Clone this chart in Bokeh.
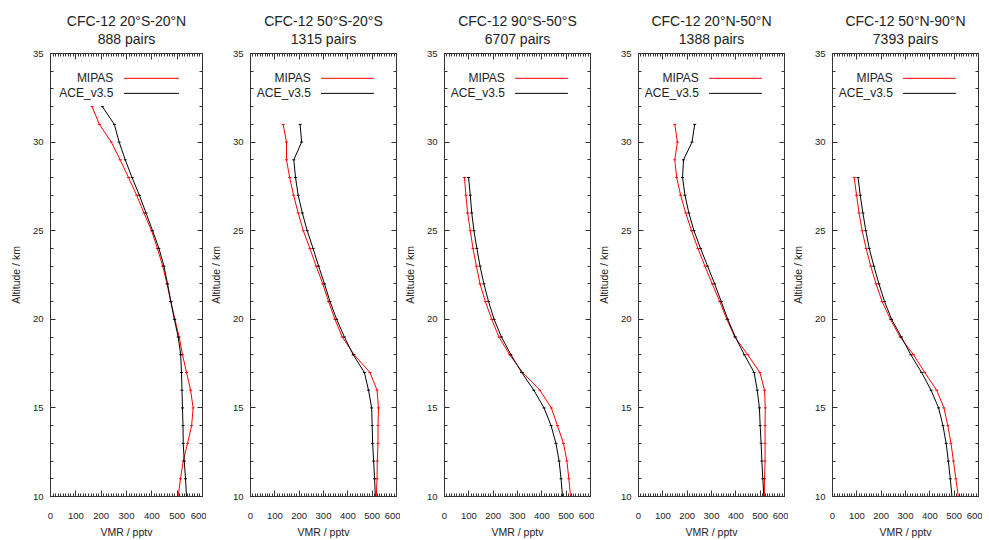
from bokeh.plotting import figure
from bokeh.layouts import row
from bokeh.models import Range1d, LinearAxis, SingleIntervalTicker, Title, Label
from bokeh.embed import file_html
from bokeh.resources import INLINE

# ---------------- data ----------------
REGIONS = ["20°S-20°N", "50°S-20°S", "90°S-50°S", "20°N-50°N", "50°N-90°N"]
PAIRS = [888, 1315, 6707, 1388, 7393]

ALT_1 = [10, 11, 12, 13, 14, 15, 16, 17, 18, 19, 20, 21, 22, 23, 24, 25, 26, 27, 28, 29, 30, 31, 32]
MIPAS_1 = [504, 513, 524, 541, 557, 563, 553, 537, 521, 508, 491, 475, 460, 443, 422, 399, 369, 340, 308, 275, 240, 193, 164]
ACE_1 = [537, 533, 528, 524, 523, 521, 519, 517, 514, 504, 489, 475, 462, 448, 428, 403, 377, 351, 322, 295, 271, 252, 205]

ALT_2 = [10, 11, 12, 13, 14, 15, 16, 17, 18, 19, 20, 21, 22, 23, 24, 25, 26, 27, 28, 29, 30, 31]
MIPAS_2 = [517, 520, 521, 524, 524, 526, 520, 491, 426, 377, 347, 321, 297, 270, 244, 217, 196, 177, 161, 148, 148, 134]
ACE_2 = [513, 510, 506, 502, 500, 498, 485, 468, 422, 386, 354, 327, 304, 280, 257, 233, 213, 196, 185, 178, 210, 204]

ALT_3 = [10, 11, 12, 13, 14, 15, 16, 17, 18, 19, 20, 21, 22, 23, 24, 25, 26, 27, 28]
MIPAS_3 = [518, 511, 503, 489, 464, 439, 392, 321, 268, 224, 194, 168, 146, 131, 117, 106, 95, 88, 82]
ACE_3 = [485, 479, 471, 458, 438, 409, 367, 317, 273, 234, 204, 181, 162, 146, 133, 121, 112, 106, 99]

ALT_4 = [10, 11, 12, 13, 14, 15, 16, 17, 18, 19, 20, 21, 22, 23, 24, 25, 26, 27, 28, 29, 30, 31]
MIPAS_4 = [517, 518, 520, 520, 520, 521, 518, 499, 449, 396, 363, 334, 303, 273, 244, 218, 194, 173, 157, 149, 160, 149]
ACE_4 = [515, 511, 507, 504, 500, 497, 488, 475, 435, 398, 367, 340, 313, 284, 255, 228, 207, 191, 181, 185, 220, 231]

ALT_5 = [10, 11, 12, 13, 14, 15, 16, 17, 18, 19, 20, 21, 22, 23, 24, 25, 26, 27, 28]
MIPAS_5 = [517, 507, 497, 487, 474, 458, 428, 379, 333, 278, 238, 204, 179, 157, 138, 122, 109, 99, 89]
ACE_5 = [491, 484, 476, 467, 454, 436, 405, 366, 322, 283, 243, 214, 191, 170, 151, 137, 125, 114, 105]

ALTS = [ALT_1, ALT_2, ALT_3, ALT_4, ALT_5]
MIPAS = [MIPAS_1, MIPAS_2, MIPAS_3, MIPAS_4, MIPAS_5]
ACE = [ACE_1, ACE_2, ACE_3, ACE_4, ACE_5]
SERIES = ["MIPAS", "ACE_v3.5"]

# ---------------- style ----------------
FONT = "Liberation Sans"
TXT = "#222222"
AXC = "#333333"
COLORS = ["#ff0000", "#000000"]
LEG_TEXT_X = 248
LEG_LINE_X = (290, 507)
LEG_Y = (33.6, 32.75)


def style_axis(ax, major_in, minor_in, labels):
    ax.major_tick_in = major_in
    ax.major_tick_out = 0
    ax.minor_tick_in = minor_in
    ax.minor_tick_out = 0
    ax.axis_line_color = AXC
    ax.major_tick_line_color = AXC
    ax.minor_tick_line_color = AXC
    ax.major_label_text_font = FONT
    ax.major_label_text_font_size = "9.5px"
    ax.major_label_text_color = TXT
    ax.axis_label_text_font = FONT
    ax.axis_label_text_font_size = "10.5px"
    ax.axis_label_text_font_style = "normal"
    ax.axis_label_text_color = TXT
    if not labels:
        ax.major_label_text_color = None
        ax.major_label_text_font_size = "0px"
        ax.major_label_standoff = 0
        ax.axis_label = None


def make_panel(i):
    left = 50 if i == 0 else 38
    right_b = 4
    p = figure(width=left + 152 + right_b, height=540, x_range=Range1d(0, 600), y_range=Range1d(10, 35),
               output_backend="svg", toolbar_location=None,
               min_border_left=left, min_border_right=right_b, min_border_top=53, min_border_bottom=44)
    p.xgrid.visible = False
    p.ygrid.visible = False
    p.outline_line_color = AXC
    p.background_fill_color = "white"
    p.border_fill_color = "white"

    p.xaxis.ticker = SingleIntervalTicker(interval=100, num_minor_ticks=10)
    p.yaxis.ticker = SingleIntervalTicker(interval=5, num_minor_ticks=5)
    p.xaxis.axis_label = "VMR / pptv"
    p.yaxis.axis_label = "Altitude / km"
    style_axis(p.xaxis[0], 6, 3, True)
    style_axis(p.yaxis[0], 5, 3, True)
    p.xaxis.major_label_standoff = 16
    p.xaxis.axis_label_standoff = 4
    p.yaxis.major_label_standoff = 7
    p.yaxis.axis_label_standoff = 8

    top = LinearAxis(ticker=SingleIntervalTicker(interval=100, num_minor_ticks=10))
    style_axis(top, 6, 3, False)
    p.add_layout(top, "above")
    right = LinearAxis(ticker=SingleIntervalTicker(interval=5, num_minor_ticks=5))
    style_axis(right, 5, 3, False)
    p.add_layout(right, "right")

    p.title.text = "CFC-12 " + REGIONS[i]
    p.title.align = "center"
    p.title.text_font = FONT
    p.title.text_font_size = "14px"
    p.title.text_font_style = "normal"
    p.title.text_color = TXT
    p.title.standoff = -14
    p.add_layout(Title(text=f"{PAIRS[i]} pairs", align="center", text_font=FONT,
                       text_font_size="14px", text_font_style="normal", text_color=TXT,
                       standoff=14), "above")

    for vals, col in zip([MIPAS[i], ACE[i]], COLORS):
        p.line(vals, ALTS[i], line_color=col, line_width=1)
        p.scatter(vals, ALTS[i], marker="dash", size=3, line_color=col, line_width=1)

    for name, col, ly in zip(SERIES, COLORS, LEG_Y):
        p.add_layout(Label(x=LEG_TEXT_X, y=ly, text=name, text_align="right", text_baseline="middle",
                           text_font=FONT, text_font_size="12px", text_color=TXT))
        p.line(list(LEG_LINE_X), [ly, ly], line_color=col, line_width=1)
    return p


layout = row(*[make_panel(i) for i in range(5)])
open("out.html", "w").write(file_html(layout, INLINE))
